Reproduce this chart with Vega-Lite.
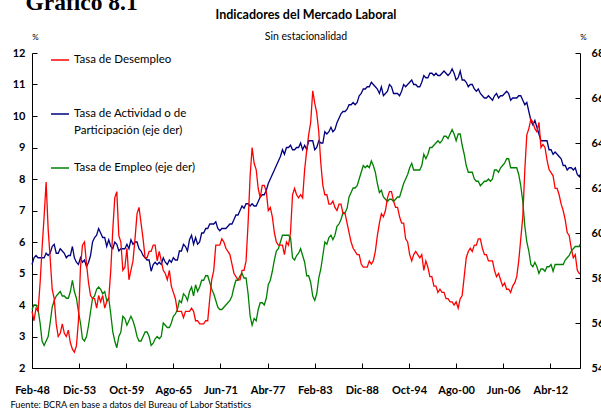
{
"$schema":"https://vega.github.io/schema/vega-lite/v6.json",
"width":548,"height":315,
"autosize":{"type":"none"},
"padding":{"left":32,"top":53,"right":21,"bottom":42},
"background":"white",
"config":{"view":{"stroke":null},"font":"Lato","style":{"guide-label":{"lineHeight":17}}},
"title":{"text":"Indicadores del Mercado Laboral","subtitle":"Sin estacionalidad","anchor":"middle","frame":"group","font":"Lato","fontSize":12.5,"fontWeight":"bold","color":"black","subtitleFont":"Lato","subtitleFontSize":10.5,"subtitleColor":"black","subtitlePadding":10.5,"offset":-52.5},
"data":{"values":[
{"d":"1948-02","u":3.8,"p":58.6,"e":56.6},{"d":"1948-05","u":3.5,"p":58.9,"e":56.8},{"d":"1948-08","u":3.9,"p":59.0,"e":56.8},{"d":"1948-11","u":3.8,"p":58.9,"e":56.6},
{"d":"1949-02","u":4.7,"p":58.9,"e":56.0},{"d":"1949-05","u":5.8,"p":58.9,"e":55.2},{"d":"1949-08","u":6.8,"p":58.9,"e":55.0},{"d":"1949-11","u":7.9,"p":59.1,"e":55.2},
{"d":"1950-02","u":6.4,"p":59.0,"e":55.4},{"d":"1950-05","u":5.5,"p":59.1,"e":56.0},{"d":"1950-08","u":4.5,"p":59.4,"e":56.7},{"d":"1950-11","u":4.2,"p":59.5,"e":57.0},
{"d":"1951-02","u":3.4,"p":59.1,"e":57.2},{"d":"1951-05","u":3.0,"p":59.1,"e":57.3},{"d":"1951-08","u":3.1,"p":59.3,"e":57.4},{"d":"1951-11","u":3.4,"p":59.2,"e":57.2},
{"d":"1952-02","u":3.1,"p":59.1,"e":57.2},{"d":"1952-05","u":3.0,"p":58.9,"e":57.1},{"d":"1952-08","u":3.2,"p":59.0,"e":57.1},{"d":"1952-11","u":2.8,"p":59.0,"e":57.4},
{"d":"1953-02","u":2.6,"p":59.4,"e":57.9},{"d":"1953-05","u":2.5,"p":58.9,"e":57.4},{"d":"1953-08","u":2.7,"p":58.7,"e":57.1},{"d":"1953-11","u":3.5,"p":58.6,"e":56.5},
{"d":"1954-02","u":5.2,"p":58.9,"e":56.0},{"d":"1954-05","u":5.9,"p":58.7,"e":55.3},{"d":"1954-08","u":6.0,"p":58.8,"e":55.2},{"d":"1954-11","u":5.3,"p":58.5,"e":55.4},
{"d":"1955-02","u":4.7,"p":58.7,"e":55.9},{"d":"1955-05","u":4.3,"p":59.0,"e":56.5},{"d":"1955-08","u":4.2,"p":59.6,"e":57.1},{"d":"1955-11","u":4.2,"p":59.8,"e":57.2},
{"d":"1956-02","u":3.9,"p":59.9,"e":57.5},{"d":"1956-05","u":4.3,"p":60.2,"e":57.6},{"d":"1956-08","u":4.1,"p":60.0,"e":57.5},{"d":"1956-11","u":4.3,"p":59.8,"e":57.3},
{"d":"1957-02","u":3.9,"p":59.8,"e":57.4},{"d":"1957-05","u":4.1,"p":59.4,"e":57.0},{"d":"1957-08","u":4.2,"p":59.7,"e":57.1},{"d":"1957-11","u":5.1,"p":59.4,"e":56.4},
{"d":"1958-02","u":6.4,"p":59.3,"e":55.6},{"d":"1958-05","u":7.4,"p":59.6,"e":55.2},{"d":"1958-08","u":7.6,"p":59.5,"e":54.9},{"d":"1958-11","u":6.2,"p":59.2,"e":55.4},
{"d":"1959-02","u":6.0,"p":59.3,"e":55.6},{"d":"1959-05","u":5.1,"p":59.3,"e":56.3},{"d":"1959-08","u":5.2,"p":59.3,"e":56.2},{"d":"1959-11","u":5.8,"p":59.5,"e":55.9},
{"d":"1960-02","u":4.8,"p":59.3,"e":56.1},{"d":"1960-05","u":5.1,"p":59.7,"e":56.3},{"d":"1960-08","u":5.4,"p":59.5,"e":56.1},{"d":"1960-11","u":6.1,"p":59.6,"e":55.8},
{"d":"1961-02","u":6.9,"p":59.6,"e":55.4},{"d":"1961-05","u":7.1,"p":59.3,"e":55.2},{"d":"1961-08","u":6.6,"p":59.2,"e":55.2},{"d":"1961-11","u":6.1,"p":59.0,"e":55.4},
{"d":"1962-02","u":5.5,"p":58.9,"e":55.6},{"d":"1962-05","u":5.5,"p":58.8,"e":55.6},{"d":"1962-08","u":5.7,"p":58.8,"e":55.4},{"d":"1962-11","u":5.7,"p":58.3,"e":55.0},
{"d":"1963-02","u":5.9,"p":58.6,"e":55.1},{"d":"1963-05","u":5.9,"p":58.7,"e":55.3},{"d":"1963-08","u":5.4,"p":58.6,"e":55.4},{"d":"1963-11","u":5.7,"p":58.7,"e":55.3},
{"d":"1964-02","u":5.4,"p":58.6,"e":55.4},{"d":"1964-05","u":5.1,"p":58.9,"e":56.0},{"d":"1964-08","u":5.0,"p":58.7,"e":55.9},{"d":"1964-11","u":4.8,"p":58.6,"e":55.8},
{"d":"1965-02","u":5.1,"p":58.8,"e":55.8},{"d":"1965-05","u":4.6,"p":58.7,"e":56.0},{"d":"1965-08","u":4.4,"p":58.9,"e":56.3},{"d":"1965-11","u":4.2,"p":58.8,"e":56.4},
{"d":"1966-02","u":3.8,"p":58.8,"e":56.6},{"d":"1966-05","u":3.8,"p":59.2,"e":57.0},{"d":"1966-08","u":3.8,"p":59.2,"e":56.9},{"d":"1966-11","u":3.6,"p":59.5,"e":57.3},
{"d":"1967-02","u":3.8,"p":59.4,"e":57.2},{"d":"1967-05","u":3.8,"p":59.2,"e":57.0},{"d":"1967-08","u":3.8,"p":59.7,"e":57.4},{"d":"1967-11","u":3.9,"p":59.9,"e":57.6},
{"d":"1968-02","u":3.8,"p":59.5,"e":57.2},{"d":"1968-05","u":3.5,"p":59.8,"e":57.7},{"d":"1968-08","u":3.5,"p":59.5,"e":57.4},{"d":"1968-11","u":3.4,"p":59.6,"e":57.6},
{"d":"1969-02","u":3.4,"p":60.0,"e":57.9},{"d":"1969-05","u":3.4,"p":60.0,"e":57.9},{"d":"1969-08","u":3.5,"p":60.2,"e":58.1},{"d":"1969-11","u":3.5,"p":60.2,"e":58.1},
{"d":"1970-02","u":4.2,"p":60.4,"e":57.8},{"d":"1970-05","u":4.8,"p":60.4,"e":57.5},{"d":"1970-08","u":5.1,"p":60.4,"e":57.3},{"d":"1970-11","u":5.9,"p":60.5,"e":57.0},
{"d":"1971-02","u":5.9,"p":60.2,"e":56.7},{"d":"1971-05","u":5.9,"p":60.1,"e":56.6},{"d":"1971-08","u":6.1,"p":60.2,"e":56.6},{"d":"1971-11","u":6.0,"p":60.2,"e":56.7},
{"d":"1972-02","u":5.8,"p":60.2,"e":56.8},{"d":"1972-05","u":5.7,"p":60.3,"e":56.9},{"d":"1972-08","u":5.6,"p":60.4,"e":57.0},{"d":"1972-11","u":5.3,"p":60.4,"e":57.2},
{"d":"1973-02","u":5.0,"p":60.6,"e":57.6},{"d":"1973-05","u":4.9,"p":60.8,"e":57.9},{"d":"1973-08","u":4.8,"p":60.8,"e":57.9},{"d":"1973-11","u":4.8,"p":61.0,"e":58.1},
{"d":"1974-02","u":5.1,"p":61.2,"e":58.2},{"d":"1974-05","u":5.1,"p":61.1,"e":58.0},{"d":"1974-08","u":5.4,"p":61.3,"e":58.0},{"d":"1974-11","u":6.6,"p":61.3,"e":57.3},
{"d":"1975-02","u":8.1,"p":61.2,"e":56.3},{"d":"1975-05","u":9.0,"p":61.3,"e":55.9},{"d":"1975-08","u":8.5,"p":61.2,"e":56.2},{"d":"1975-11","u":8.3,"p":61.2,"e":56.1},
{"d":"1976-02","u":7.7,"p":61.4,"e":56.6},{"d":"1976-05","u":7.4,"p":61.6,"e":56.9},{"d":"1976-08","u":7.8,"p":61.7,"e":56.9},{"d":"1976-11","u":7.8,"p":61.7,"e":56.8},
{"d":"1977-02","u":7.6,"p":61.9,"e":57.1},{"d":"1977-05","u":7.0,"p":62.2,"e":57.7},{"d":"1977-08","u":7.1,"p":62.4,"e":57.9},{"d":"1977-11","u":6.8,"p":62.6,"e":58.3},
{"d":"1978-02","u":6.3,"p":62.8,"e":58.8},{"d":"1978-05","u":6.0,"p":63.0,"e":59.2},{"d":"1978-08","u":5.9,"p":63.2,"e":59.3},{"d":"1978-11","u":5.9,"p":63.4,"e":59.6},
{"d":"1979-02","u":5.9,"p":63.7,"e":59.9},{"d":"1979-05","u":5.6,"p":63.5,"e":59.9},{"d":"1979-08","u":6.0,"p":63.8,"e":59.9},{"d":"1979-11","u":5.9,"p":63.8,"e":59.9},
{"d":"1980-02","u":6.3,"p":63.9,"e":59.8},{"d":"1980-05","u":7.5,"p":63.7,"e":58.9},{"d":"1980-08","u":7.7,"p":63.7,"e":58.8},{"d":"1980-11","u":7.5,"p":63.8,"e":59.0},
{"d":"1981-02","u":7.4,"p":63.8,"e":59.1},{"d":"1981-05","u":7.5,"p":64.0,"e":59.3},{"d":"1981-08","u":7.4,"p":63.7,"e":59.0},{"d":"1981-11","u":8.3,"p":63.9,"e":58.7},
{"d":"1982-02","u":8.9,"p":63.7,"e":58.1},{"d":"1982-05","u":9.4,"p":64.1,"e":58.1},{"d":"1982-08","u":9.8,"p":64.1,"e":57.8},{"d":"1982-11","u":10.8,"p":64.1,"e":57.2},
{"d":"1983-02","u":10.4,"p":63.7,"e":57.0},{"d":"1983-05","u":10.1,"p":63.8,"e":57.3},{"d":"1983-08","u":9.5,"p":64.1,"e":58.0},{"d":"1983-11","u":8.5,"p":64.0,"e":58.4},
{"d":"1984-02","u":7.8,"p":64.0,"e":59.0},{"d":"1984-05","u":7.5,"p":64.5,"e":59.6},{"d":"1984-08","u":7.5,"p":64.4,"e":59.5},{"d":"1984-11","u":7.2,"p":64.5,"e":59.8},
{"d":"1985-02","u":7.2,"p":64.7,"e":59.9},{"d":"1985-05","u":7.3,"p":64.5,"e":59.7},{"d":"1985-08","u":7.1,"p":64.6,"e":59.9},{"d":"1985-11","u":7.0,"p":64.9,"e":60.3},
{"d":"1986-02","u":7.2,"p":65.1,"e":60.4},{"d":"1986-05","u":7.2,"p":65.3,"e":60.6},{"d":"1986-08","u":6.9,"p":65.4,"e":60.9},{"d":"1986-11","u":6.9,"p":65.4,"e":60.9},
{"d":"1987-02","u":6.6,"p":65.5,"e":61.1},{"d":"1987-05","u":6.3,"p":65.7,"e":61.6},{"d":"1987-08","u":6.0,"p":65.7,"e":61.8},{"d":"1987-11","u":5.8,"p":65.8,"e":62.0},
{"d":"1988-02","u":5.7,"p":65.7,"e":62.0},{"d":"1988-05","u":5.6,"p":65.8,"e":62.1},{"d":"1988-08","u":5.6,"p":66.1,"e":62.4},{"d":"1988-11","u":5.3,"p":66.2,"e":62.7},
{"d":"1989-02","u":5.2,"p":66.4,"e":63.0},{"d":"1989-05","u":5.2,"p":66.4,"e":62.9},{"d":"1989-08","u":5.2,"p":66.5,"e":63.0},{"d":"1989-11","u":5.4,"p":66.5,"e":62.9},
{"d":"1990-02","u":5.3,"p":66.7,"e":63.2},{"d":"1990-05","u":5.4,"p":66.6,"e":63.0},{"d":"1990-08","u":5.7,"p":66.5,"e":62.7},{"d":"1990-11","u":6.2,"p":66.4,"e":62.2},
{"d":"1991-02","u":6.6,"p":66.2,"e":61.8},{"d":"1991-05","u":6.9,"p":66.5,"e":61.9},{"d":"1991-08","u":6.8,"p":66.1,"e":61.6},{"d":"1991-11","u":7.0,"p":66.2,"e":61.5},
{"d":"1992-02","u":7.4,"p":66.3,"e":61.4},{"d":"1992-05","u":7.6,"p":66.6,"e":61.5},{"d":"1992-08","u":7.6,"p":66.5,"e":61.5},{"d":"1992-11","u":7.3,"p":66.2,"e":61.4},
{"d":"1993-02","u":7.1,"p":66.2,"e":61.5},{"d":"1993-05","u":7.1,"p":66.2,"e":61.6},{"d":"1993-08","u":6.8,"p":66.1,"e":61.6},{"d":"1993-11","u":6.6,"p":66.3,"e":61.9},
{"d":"1994-02","u":6.6,"p":66.6,"e":62.2},{"d":"1994-05","u":6.1,"p":66.5,"e":62.4},{"d":"1994-08","u":6.0,"p":66.6,"e":62.6},{"d":"1994-11","u":5.6,"p":66.7,"e":62.9},
{"d":"1995-02","u":5.4,"p":66.8,"e":63.1},{"d":"1995-05","u":5.6,"p":66.6,"e":62.8},{"d":"1995-08","u":5.7,"p":66.6,"e":62.8},{"d":"1995-11","u":5.6,"p":66.5,"e":62.8},
{"d":"1996-02","u":5.5,"p":66.5,"e":62.8},{"d":"1996-05","u":5.6,"p":66.7,"e":63.0},{"d":"1996-08","u":5.1,"p":67.0,"e":63.5},{"d":"1996-11","u":5.4,"p":66.9,"e":63.3},
{"d":"1997-02","u":5.2,"p":66.9,"e":63.5},{"d":"1997-05","u":4.9,"p":67.1,"e":63.8},{"d":"1997-08","u":4.9,"p":67.1,"e":63.8},{"d":"1997-11","u":4.6,"p":67.0,"e":63.9},
{"d":"1998-02","u":4.6,"p":67.1,"e":64.0},{"d":"1998-05","u":4.4,"p":67.0,"e":64.1},{"d":"1998-08","u":4.5,"p":67.0,"e":64.0},{"d":"1998-11","u":4.4,"p":67.1,"e":64.1},
{"d":"1999-02","u":4.4,"p":67.2,"e":64.3},{"d":"1999-05","u":4.2,"p":67.1,"e":64.3},{"d":"1999-08","u":4.2,"p":67.0,"e":64.2},{"d":"1999-11","u":4.1,"p":67.1,"e":64.4},
{"d":"2000-02","u":4.1,"p":67.3,"e":64.6},{"d":"2000-05","u":4.0,"p":67.1,"e":64.4},{"d":"2000-08","u":4.1,"p":66.8,"e":64.1},{"d":"2000-11","u":3.9,"p":66.9,"e":64.4},
{"d":"2001-02","u":4.2,"p":67.2,"e":64.4},{"d":"2001-05","u":4.3,"p":66.8,"e":63.9},{"d":"2001-08","u":4.9,"p":66.8,"e":63.5},{"d":"2001-11","u":5.5,"p":66.7,"e":63.0},
{"d":"2002-02","u":5.7,"p":66.5,"e":62.7},{"d":"2002-05","u":5.8,"p":66.6,"e":62.7},{"d":"2002-08","u":5.7,"p":66.6,"e":62.7},{"d":"2002-11","u":5.9,"p":66.4,"e":62.4},
{"d":"2003-02","u":5.9,"p":66.3,"e":62.3},{"d":"2003-05","u":6.1,"p":66.4,"e":62.3},{"d":"2003-08","u":6.1,"p":66.2,"e":62.1},{"d":"2003-11","u":5.8,"p":66.1,"e":62.2},
{"d":"2004-02","u":5.6,"p":66.0,"e":62.3},{"d":"2004-05","u":5.6,"p":66.0,"e":62.3},{"d":"2004-08","u":5.4,"p":66.1,"e":62.4},{"d":"2004-11","u":5.4,"p":66.0,"e":62.3},
{"d":"2005-02","u":5.4,"p":65.9,"e":62.4},{"d":"2005-05","u":5.1,"p":66.1,"e":62.8},{"d":"2005-08","u":4.9,"p":66.2,"e":62.8},{"d":"2005-11","u":5.0,"p":66.0,"e":62.7},
{"d":"2006-02","u":4.8,"p":66.1,"e":62.9},{"d":"2006-05","u":4.6,"p":66.1,"e":63.0},{"d":"2006-08","u":4.7,"p":66.2,"e":63.1},{"d":"2006-11","u":4.5,"p":66.3,"e":63.3},
{"d":"2007-02","u":4.5,"p":66.2,"e":63.3},{"d":"2007-05","u":4.4,"p":65.9,"e":62.9},{"d":"2007-08","u":4.6,"p":66.0,"e":62.9},{"d":"2007-11","u":4.7,"p":66.0,"e":62.9},
{"d":"2008-02","u":4.9,"p":66.0,"e":62.9},{"d":"2008-05","u":5.4,"p":66.1,"e":62.6},{"d":"2008-08","u":6.1,"p":66.1,"e":62.1},{"d":"2008-11","u":6.8,"p":65.9,"e":61.4},
{"d":"2009-02","u":8.3,"p":65.7,"e":60.3},{"d":"2009-05","u":9.4,"p":65.8,"e":59.6},{"d":"2009-08","u":9.6,"p":65.4,"e":59.2},{"d":"2009-11","u":9.9,"p":65.0,"e":58.6},
{"d":"2010-02","u":9.8,"p":64.8,"e":58.5},{"d":"2010-05","u":9.6,"p":65.0,"e":58.7},{"d":"2010-08","u":9.5,"p":64.7,"e":58.5},{"d":"2010-11","u":9.8,"p":64.4,"e":58.2},
{"d":"2011-02","u":9.0,"p":64.1,"e":58.4},{"d":"2011-05","u":9.1,"p":64.1,"e":58.4},{"d":"2011-08","u":9.0,"p":64.1,"e":58.3},{"d":"2011-11","u":8.6,"p":64.1,"e":58.5},
{"d":"2012-02","u":8.3,"p":63.7,"e":58.5},{"d":"2012-05","u":8.2,"p":63.7,"e":58.6},{"d":"2012-08","u":8.1,"p":63.5,"e":58.3},{"d":"2012-11","u":7.7,"p":63.6,"e":58.6},
{"d":"2013-02","u":7.7,"p":63.5,"e":58.6},{"d":"2013-05","u":7.5,"p":63.4,"e":58.6},{"d":"2013-08","u":7.2,"p":63.3,"e":58.6},{"d":"2013-11","u":7.0,"p":63.0,"e":58.6},
{"d":"2014-02","u":6.7,"p":63.0,"e":58.8},{"d":"2014-05","u":6.3,"p":62.8,"e":58.9},{"d":"2014-08","u":6.2,"p":62.9,"e":59.0},{"d":"2014-11","u":5.8,"p":62.9,"e":59.2},
{"d":"2015-02","u":5.5,"p":62.8,"e":59.3},{"d":"2015-05","u":5.6,"p":62.9,"e":59.4},{"d":"2015-08","u":5.1,"p":62.6,"e":59.4},{"d":"2015-11","u":5.0,"p":62.5,"e":59.4},{"d":"2015-12","u":5.0,"p":62.6,"e":59.5}
]},
"transform":[{"fold":["u","p","e"],"as":["k","v"]}],
"layer":[
{"transform":[{"filter":"datum.k!=='u'"}],
 "mark":{"type":"line","strokeWidth":1.3},
 "encoding":{
  "x":{"field":"d","type":"temporal","scale":{"type":"utc","domain":[{"year":1948,"month":2,"date":1,"utc":true},{"year":2015,"month":12,"date":1,"utc":true}]},
       "axis":{"orient":"top","domain":false,"ticks":false,"labels":false,"grid":false,"title":"Gráfico 8.1","titleFont":"Liberation Serif","titleFontSize":23.5,"titleFontWeight":"bold","titleColor":"black","titleAngle":0,"titleAlign":"left","titleAnchor":"start","titleBaseline":"alphabetic","titleX":-7,"titleY":-44}},
  "y":{"field":"v","type":"quantitative","scale":{"domain":[54,68],"nice":false,"zero":false},
       "axis":{"orient":"right","values":[54,56,58,60,62,64,66,68],"grid":false,"tickSize":-5,"labelPadding":16,"labelFont":"Lato","labelFontSize":11,"labelFontWeight":"bold","labelColor":"black","domainColor":"black","tickColor":"black","title":"%","titleFont":"Lato","titleFontSize":8,"titleFontWeight":"normal","titleColor":"black","titleAngle":0,"titleAlign":"center","titleBaseline":"middle","titleX":3,"titleY":-16}},
  "color":{"field":"k","type":"nominal","scale":{"domain":["u","p","e"],"range":["#FF0000","#000080","#008000"]},
       "legend":{"title":null,"orient":"none","legendX":18,"legendY":-3,"symbolType":"stroke","symbolSize":324,"symbolStrokeWidth":1.5,"labelFont":"Lato","labelFontSize":11.5,"labelColor":"black","labelOffset":4,"rowPadding":21,"labelLimit":300,
         "labelExpr":"datum.value==='u' ? ['Tasa de Desempleo',''] : datum.value==='p' ? ['Tasa de Actividad o de','Participación (eje der)'] : 'Tasa de Empleo (eje der)'"}}
 }},
{"transform":[{"filter":"datum.k==='u'"}],
 "mark":{"type":"line","strokeWidth":1.3},
 "encoding":{
  "x":{"field":"d","type":"temporal","scale":{"type":"utc","domain":[{"year":1948,"month":2,"date":1,"utc":true},{"year":2015,"month":12,"date":1,"utc":true}]},
       "axis":{"orient":"bottom","values":[{"year":1948,"month":2,"date":1,"utc":true},{"year":1953,"month":12,"date":1,"utc":true},{"year":1959,"month":10,"date":1,"utc":true},{"year":1965,"month":8,"date":1,"utc":true},{"year":1971,"month":6,"date":1,"utc":true},{"year":1977,"month":4,"date":1,"utc":true},{"year":1983,"month":2,"date":1,"utc":true},{"year":1988,"month":12,"date":1,"utc":true},{"year":1994,"month":10,"date":1,"utc":true},{"year":2000,"month":8,"date":1,"utc":true},{"year":2006,"month":6,"date":1,"utc":true},{"year":2012,"month":4,"date":1,"utc":true}],
         "labelExpr":"['Ene','Feb','Mar','Abr','May','Jun','Jul','Ago','Sep','Oct','Nov','Dic'][utcmonth(datum.value)] + '-' + utcFormat(datum.value, '%y')",
         "grid":false,"tickSize":-5,"labelPadding":21,"labelOverlap":false,"labelFlush":false,"labelFont":"Lato","labelFontSize":11,"labelFontWeight":"bold","labelColor":"black","domainColor":"black","tickColor":"black",
         "title":"Fuente: BCRA en base a datos del Bureau of Labor Statistics","titleFont":"Lato","titleFontSize":9.2,"titleFontWeight":"normal","titleColor":"black","titleAnchor":"start","titleAlign":"left","titleBaseline":"middle","titleX":-22,"titleY":36}},
  "y":{"field":"v","type":"quantitative","scale":{"domain":[2,12],"nice":false,"zero":false},
       "axis":{"orient":"left","values":[2,3,4,5,6,7,8,9,10,11,12],"grid":false,"tickSize":-5,"labelPadding":12,"labelFont":"Lato","labelFontSize":11,"labelFontWeight":"bold","labelColor":"black","domainColor":"black","tickColor":"black","title":"%","titleFont":"Lato","titleFontSize":8,"titleFontWeight":"normal","titleColor":"black","titleAngle":0,"titleAlign":"center","titleBaseline":"middle","titleX":3,"titleY":-16}},
  "color":{"field":"k","type":"nominal","scale":{"domain":["u","p","e"],"range":["#FF0000","#000080","#008000"]},
       "legend":{"title":null,"orient":"none","legendX":18,"legendY":-3,"symbolType":"stroke","symbolSize":324,"symbolStrokeWidth":1.5,"labelFont":"Lato","labelFontSize":11.5,"labelColor":"black","labelOffset":4,"rowPadding":21,"labelLimit":300,
         "labelExpr":"datum.value==='u' ? ['Tasa de Desempleo',''] : datum.value==='p' ? ['Tasa de Actividad o de','Participación (eje der)'] : 'Tasa de Empleo (eje der)'"}}
 }}
],
"resolve":{"scale":{"y":"independent"},"axis":{"y":"independent","x":"independent"}}
}
